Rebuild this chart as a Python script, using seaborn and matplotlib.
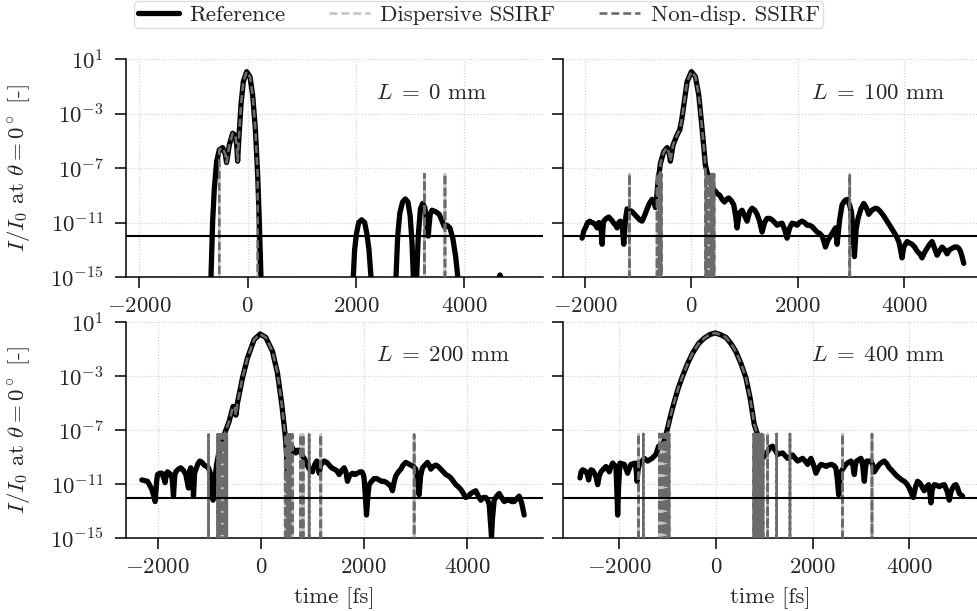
import numpy as np
import pandas as pd
import matplotlib
matplotlib.use("Agg")
import matplotlib.pyplot as plt
from matplotlib.lines import Line2D
from matplotlib.ticker import FixedLocator, FuncFormatter, LogFormatterSciNotation, NullLocator
import seaborn as sns

# ---------------- data (time in fs, log10 of I/I0) ----------------
lengths_mm = [0, 100, 200, 400]
threshold = 1e-12
floor_log = -20.0

ref_t_0 = [-720, -677, -646, -615, -572, -523, -462, -412, -390, -365, -338, -277, -228, -200, -185, -166,
           -123, -80, -18, 43, 92, 142, 185, 215, 246, 260,
           1930, 1950, 1975, 2010, 2050, 2105, 2160, 2200, 2240, 2277, 2300,
           2720, 2739, 2770, 2810, 2860, 2911, 2960, 3000, 3035, 3059, 3080,
           3100, 3120, 3150, 3190, 3231, 3270, 3300, 3320, 3335, 3350, 3370, 3403, 3470, 3538, 3590, 3631,
           3680, 3735, 3790, 3840, 3880, 3900,
           4620, 4645, 4659, 4675, 4700]
ref_l_0 = [-20, -15, -10.9, -8.5, -6.5, -5.67, -5.5, -6.0, -6.6, -6.0, -5.3, -4.45, -4.6, -5.4, -6.5, -5.1,
           -2.37, -0.66, 0.07, -0.3, -1.64, -4.1, -7.5, -10.9, -15, -20,
           -20, -15, -13.0, -11.8, -11.0, -10.8, -11.0, -11.8, -13.0, -15, -20,
           -20, -15, -12.0, -10.3, -9.5, -9.27, -9.5, -10.5, -12.5, -15, -20,
           -20, -15, -12.0, -10.0, -9.6, -9.9, -10.6, -11.6, -12.0, -11.2, -10.4, -10.1, -10.2, -10.4, -10.9, -11.3,
           -11.2, -11.4, -12.2, -13.5, -15, -20,
           -20, -15.0, -14.85, -15, -20]

ref_t_100 = [-2054, -2020, -1992, -1950, -1910, -1870, -1835, -1800, -1772, -1740, -1710, -1690, -1678, -1660,
             -1647, -1600, -1553, -1505, -1459, -1425, -1397, -1365, -1334, -1300, -1271, -1240, -1209, -1160,
             -1115, -1070, -1021, -975, -927, -880, -833, -790, -739, -700, -676, -650, -626, -582, -520, -457,
             -420, -395, -370, -344, -269, -219, -180, -144, -81, 0, 75, 138, 200, 263, 326, 357, 420, 451, 490,
             532, 575, 620, 660, 701, 750, 795, 830, 858, 900, 952, 1000, 1046, 1095, 1140, 1190, 1234, 1280,
             1328, 1375, 1422, 1470, 1516, 1565, 1610, 1655, 1703, 1750, 1797, 1845, 1891, 1940, 1985, 2030,
             2079, 2125, 2173, 2220, 2267, 2315, 2361, 2410, 2455, 2490, 2518, 2565, 2612, 2660, 2706, 2722,
             2737, 2785, 2831, 2880, 2925, 2970, 3006, 3035, 3063, 3095, 3131, 3185, 3238, 3285, 3332, 3390,
             3457, 3500, 3551, 3610, 3676, 3740, 3802, 3850, 3896, 3930, 3958, 3990, 4052, 4100, 4146, 4195,
             4240, 4290, 4334, 4380, 4428, 4475, 4522, 4570, 4616, 4660, 4710, 4760, 4804, 4850, 4898, 4945,
             4992, 5025, 5054, 5085, 5117]
ref_l_100 = [-12.15, -11.6, -11.4, -11.0, -10.9, -11.0, -11.05, -11.2, -11.4, -11.0, -11.1, -11.8, -12.6, -11.3,
             -10.9, -10.7, -10.6, -10.8, -11.05, -11.2, -11.4, -11.0, -10.9, -11.3, -12.6, -10.8, -10.0, -10.1,
             -10.2, -10.4, -10.6, -10.8, -10.9, -10.5, -10.0, -9.6, -9.3, -9.5, -9.9, -9.0, -8.0, -6.65, -5.8, -5.5,
             -5.9, -6.5, -5.9, -5.3, -4.57, -4.2, -3.4, -2.4, -0.66, 0.07, -0.3, -1.64, -4.1, -6.8, -7.8, -8.0,
             -8.6, -8.7, -8.9, -9.0, -9.3, -9.5, -9.3, -9.2, -9.4, -9.7, -10.5, -11.4, -10.3, -10.1, -10.5, -10.9,
             -10.2, -9.95, -10.1, -10.4, -10.9, -11.7, -11.0, -10.7, -10.7, -10.8, -11.0, -11.2, -11.1, -11.05,
             -11.5, -12.15, -11.4, -11.05, -11.1, -11.2, -11.0, -10.9, -11.0, -11.2, -11.2, -11.3, -11.5, -11.7,
             -11.8, -12.0, -12.4, -12.8, -12.3, -12.0, -11.7, -11.4, -12.0, -12.6, -10.8, -9.7, -9.4, -9.3, -9.7,
             -10.2, -11.5, -13.5, -11.5, -10.7, -10.0, -9.6, -9.9, -10.4, -10.1, -9.95, -10.0, -10.2, -10.5,
             -10.9, -11.3, -11.7, -12.0, -12.4, -13.0, -13.6, -12.8, -12.4, -12.5, -12.6, -12.8, -13.1, -13.3,
             -13.6, -13.2, -12.9, -12.6, -12.4, -12.9, -13.4, -13.1, -12.8, -13.0, -13.3, -13.0, -12.9, -12.8,
             -12.8, -12.9, -13.1, -13.5, -14.0]

ref_t_200 = [-2308, -2250, -2198, -2140, -2114, -2075, -2050, -2020, -2004, -1960, -1920, -1880, -1856, -1830,
             -1810, -1775, -1746, -1720, -1694, -1670, -1649, -1600, -1552, -1500, -1455, -1430, -1403, -1380,
             -1358, -1330, -1306, -1285, -1261, -1220, -1183, -1140, -1099, -1050, -1015, -980, -950, -925, -900,
             -860, -795, -750, -711, -614, -537, -500, -485, -465, -453, -356, -259, -129, -13, 97, 226, 323,
             407, 472, 500, 517, 540, 570, 595, 640, 679, 710, 744, 790, 841, 880, 925, 960, 1002, 1040, 1086,
             1110, 1132, 1160, 1229, 1280, 1326, 1375, 1423, 1470, 1520, 1570, 1617, 1650, 1681, 1720, 1778,
             1830, 1875, 1920, 1959, 1990, 2004, 2030, 2050, 2075, 2101, 2150, 2198, 2250, 2295, 2340, 2392,
             2440, 2489, 2525, 2554, 2590, 2619, 2670, 2716, 2760, 2813, 2860, 2910, 2960, 3007, 3040, 3071,
             3100, 3136, 3185, 3233, 3265, 3298, 3345, 3395, 3440, 3492, 3540, 3589, 3640, 3686, 3735, 3783,
             3830, 3880, 3930, 3977, 4025, 4074, 4120, 4171, 4220, 4268, 4315, 4365, 4400, 4430, 4455, 4475,
             4495, 4527, 4575, 4624, 4670, 4721, 4770, 4818, 4865, 4915, 4960, 5012, 5060, 5109]
ref_l_200 = [-10.7, -10.75, -10.8, -11.2, -11.4, -11.9, -12.3, -10.8, -10.3, -10.2, -10.2, -10.6, -10.9, -10.2,
             -10.1, -10.2, -10.3, -10.6, -11.9, -10.4, -10.1, -9.9, -9.8, -10.0, -10.3, -10.8, -11.3, -10.0,
             -9.8, -10.2, -11.9, -10.2, -9.95, -9.5, -9.3, -9.4, -9.6, -9.7, -9.8, -10.2, -11.5, -12.2, -11.0,
             -9.6, -8.3, -7.8, -7.35, -6.36, -5.25, -5.4, -5.9, -5.4, -5.0, -3.15, -1.67, -0.3, 0.11, -0.14,
             -1.17, -2.78, -5.1, -7.35, -8.8, -10.3, -9.5, -8.5, -8.2, -8.5, -8.7, -8.5, -8.5, -8.8, -9.1, -9.4,
             -9.8, -10.0, -10.1, -9.6, -9.3, -9.5, -10.2, -9.6, -9.3, -9.4, -9.6, -9.8, -9.9, -10.0, -10.3,
             -10.0, -9.8, -10.1, -10.8, -10.4, -10.2, -10.3, -10.2, -10.1, -10.1, -10.3, -10.6, -12.0, -13.3,
             -12.0, -11.05, -10.8, -10.6, -10.6, -10.7, -10.8, -10.8, -10.9, -11.05, -11.2, -11.5, -10.8, -10.4,
             -10.1, -9.9, -9.6, -9.4, -9.5, -9.6, -9.7, -9.9, -10.6, -11.8, -10.4, -9.8, -9.6, -9.4, -9.6, -9.9,
             -9.7, -9.6, -9.7, -9.9, -10.1, -10.3, -10.4, -10.55, -10.8, -11.05, -11.2, -11.4, -11.7, -12.0,
             -11.9, -11.7, -11.6, -11.5, -11.9, -12.2, -12.0, -12.0, -12.2, -12.5, -13.8, -14.9, -13.5, -12.2,
             -11.9, -11.7, -12.0, -12.3, -12.2, -12.2, -12.3, -12.3, -12.1, -11.9, -12.4, -13.3]

ref_t_400 = [-2814, -2790, -2759, -2725, -2690, -2660, -2635, -2610, -2586, -2550, -2517, -2480, -2448, -2415,
             -2379, -2330, -2276, -2240, -2207, -2170, -2138, -2100, -2069, -2050, -2034, -2015, -1986, -1940,
             -1897, -1860, -1828, -1790, -1759, -1710, -1669, -1650, -1634, -1610, -1586, -1530, -1483, -1450,
             -1414, -1370, -1324, -1280, -1241, -1186, -1150, -1103, -1050, -1000, -930, -862, -780, -690, -590,
             -483, -360, -241, -120, -14, 100, 207, 310, 414, 520, 621, 710, 793, 862, 910, 966, 1020, 1069,
             1120, 1172, 1225, 1276, 1330, 1379, 1430, 1483, 1535, 1586, 1640, 1690, 1740, 1793, 1845, 1897,
             1930, 1966, 2020, 2069, 2120, 2172, 2225, 2276, 2330, 2379, 2430, 2480, 2510, 2538, 2560, 2586,
             2640, 2690, 2740, 2793, 2830, 2862, 2885, 2910, 2955, 3000, 3035, 3069, 3095, 3117, 3160, 3207,
             3245, 3276, 3330, 3379, 3430, 3483, 3535, 3586, 3640, 3690, 3740, 3793, 3845, 3897, 3950, 4000,
             4045, 4083, 4130, 4172, 4210, 4241, 4275, 4310, 4355, 4400, 4425, 4448, 4475, 4517, 4570, 4621,
             4670, 4724, 4780, 4828, 4860, 4897, 4930, 4966, 5000, 5035, 5070, 5103]
ref_l_400 = [-10.55, -10.1, -9.95, -10.0, -10.1, -10.3, -10.7, -10.2, -9.95, -10.0, -10.2, -10.5, -11.05, -10.4,
             -10.1, -9.9, -9.7, -9.9, -10.1, -9.7, -9.45, -9.6, -9.7, -11.5, -13.3, -11.2, -9.45, -9.5, -9.55,
             -9.9, -10.2, -9.8, -9.55, -9.5, -9.45, -10.0, -10.8, -9.9, -9.55, -9.3, -9.1, -9.2, -9.3, -9.2,
             -9.1, -8.95, -8.8, -8.2, -8.3, -8.1, -7.6, -6.85, -5.8, -4.9, -3.9, -3.0, -2.1, -1.3, -0.6, -0.19,
             0.08, 0.19, 0.05, -0.14, -0.6, -1.2, -2.1, -3.15, -4.7, -6.6, -7.35, -8.3, -9.1, -8.8, -8.6, -8.3,
             -8.2, -8.5, -8.8, -8.75, -8.7, -8.9, -9.1, -9.0, -8.85, -9.1, -9.3, -9.2, -9.1, -9.3, -9.55, -9.3,
             -9.1, -9.6, -10.2, -9.8, -9.55, -9.6, -9.7, -9.6, -9.55, -9.6, -9.8, -10.6, -11.8, -10.8, -10.1,
             -9.8, -9.55, -9.4, -9.3, -9.6, -10.3, -9.6, -9.3, -9.2, -9.1, -9.6, -10.8, -9.8, -9.3, -9.3, -9.3,
             -9.6, -10.1, -9.8, -9.55, -9.4, -9.3, -9.5, -9.8, -10.0, -10.2, -10.4, -10.55, -10.7, -10.8, -11.0,
             -11.3, -11.7, -12.0, -11.2, -10.8, -10.9, -11.05, -11.3, -11.5, -11.2, -11.05, -11.6, -12.4, -11.4,
             -11.05, -11.1, -11.2, -11.1, -11.05, -11.5, -12.2, -11.6, -11.3, -11.1, -11.05, -11.3, -11.7, -11.8,
             -11.9]

# SSIRF: time window where the model pulse follows the reference, spike times and spike level (log10)
ssirf_window = {0: (-535, 205), 100: (-600, 300), 200: (-720, 480), 400: (-1010, 870)}
ssirf_spikes = {
    0: [3262, 3643],
    100: [-1165, -645, -625, -605, -585, -565, 275, 300, 325, 350, 375, 400, 425, 2975],
    200: [-1015, -840, -810, -780, -750, -720, -690, -660, 490, 520, 550, 580, 610, 776, 821, 938, 1164, 2974],
    400: [-1600, -1503, -1170, -1130, -1090, -1050, -1010, -970, 780, 820, 860, 900, 940, 975, 1069, 1255,
          1531, 2621, 3228],
}
ssirf_level = {0: -7.45, 100: -7.45, 200: -7.35, 400: -7.3}

xlims = {0: (-2246, 5453), 100: (-2413, 5366), 200: (-2615, 5474), 400: (-3165, 5401)}
x_ticks = [-2000, 0, 2000, 4000]
y_ticks = [1e1, 1e-3, 1e-7, 1e-11, 1e-15]

refs = {0: (ref_t_0, ref_l_0), 100: (ref_t_100, ref_l_100), 200: (ref_t_200, ref_l_200), 400: (ref_t_400, ref_l_400)}


def ssirf_curve(L):
    rt, rl = refs[L]
    lo, hi = ssirf_window[L]
    t_in = [t for t in rt if lo <= t <= hi]
    l_in = [l for t, l in zip(rt, rl) if lo <= t <= hi]
    ts = [t_in[0]] + t_in + [t_in[-1]]
    ls = [floor_log] + l_in + [floor_log]
    for s in ssirf_spikes[L]:
        ts += [s, s, s]
        ls += [floor_log, ssirf_level[L], floor_log]
    return pd.DataFrame({"time": ts, "I": np.power(10.0, ls)})


# ---------------- style ----------------
sns.set_style("ticks")
plt.rcParams["font.family"] = ["cmr10", "DejaVu Serif"]
plt.rcParams["mathtext.fontset"] = "cm"
plt.rcParams["axes.unicode_minus"] = False
plt.rcParams["axes.formatter.use_mathtext"] = True
FS = 16.5

fig = plt.figure(figsize=(9.77, 6.11), dpi=100)
W, H = 977.0, 611.0
rects = {
    0: [126 / W, (H - 277) / H, 417 / W, 218 / H],
    100: [563 / W, (H - 277) / H, 414 / W, 218 / H],
    200: [126 / W, (H - 538) / H, 417 / W, 216 / H],
    400: [563 / W, (H - 538) / H, 414 / W, 216 / H],
}

c_ref = "black"
c_disp = "#c4c4c4"
c_nd = "#6b6b6b"
dash = (3.0, 1.5)
lw_ref = 3.8
lw_ss = 1.9

for L in lengths_mm:
    ax = fig.add_axes(rects[L])
    rt, rl = refs[L]
    dref = pd.DataFrame({"time": rt, "I": np.power(10.0, rl)})
    dss = ssirf_curve(L)
    sns.lineplot(data=dss, x="time", y="I", ax=ax, sort=False, estimator=None, color=c_disp,
                 linewidth=lw_ss, linestyle=(2.25, dash), zorder=2, legend=False)
    sns.lineplot(data=dref, x="time", y="I", ax=ax, sort=False, estimator=None, color=c_ref,
                 linewidth=lw_ref, zorder=3, legend=False)
    sns.lineplot(data=dss, x="time", y="I", ax=ax, sort=False, estimator=None, color=c_nd,
                 linewidth=lw_ss, linestyle=(0, dash), zorder=4, legend=False)
    if ax.get_legend() is not None:
        ax.get_legend().remove()
    ax.axhline(threshold, color="black", linewidth=1.5, zorder=5)

    ax.set_yscale("log")
    ax.set_ylim(1e-15, 1e1)
    ax.yaxis.set_major_locator(FixedLocator(y_ticks))
    ax.yaxis.set_minor_locator(NullLocator())
    ax.yaxis.set_major_formatter(LogFormatterSciNotation())
    ax.set_xlim(*xlims[L])
    ax.xaxis.set_major_locator(FixedLocator(x_ticks))
    ax.xaxis.set_major_formatter(FuncFormatter(lambda v, p: f"${v:.0f}$"))

    ax.grid(True, which="major", linestyle=":", color="#cfcfcf", linewidth=0.8, zorder=0)
    ax.set_axisbelow(True)
    for s in ["top", "right"]:
        ax.spines[s].set_visible(False)
    for s in ["left", "bottom"]:
        ax.spines[s].set_linewidth(1.1)
        ax.spines[s].set_color("black")
    ax.tick_params(axis="both", direction="out", length=8, width=1.1, labelsize=FS, color="black")
    ax.tick_params(axis="y", pad=8)
    ax.tick_params(axis="x", pad=6)

    if L in (0, 200):
        ax.set_ylabel(r"$I/I_0$ at $\theta = 0^\circ$ [-]", fontsize=FS)
        ax.yaxis.set_label_coords(-0.225, 0.5)
    else:
        ax.set_ylabel("")
        ax.tick_params(axis="y", labelleft=False)
    if L in (200, 400):
        ax.set_xlabel("time [fs]", fontsize=FS)
        ax.xaxis.set_label_coords(0.5, -0.23)
    else:
        ax.set_xlabel("")

    ax.text(0.60, 0.845, rf"$L\;=\;{L}$ mm", transform=ax.transAxes, ha="left", va="center", fontsize=FS)

# legend proxies styled like the plotted series
handles = [
    Line2D([], [], color=c_ref, linewidth=lw_ref),
    Line2D([], [], color=c_disp, linewidth=lw_ss, linestyle=(0, dash)),
    Line2D([], [], color=c_nd, linewidth=lw_ss, linestyle=(0, dash)),
]
labels = ["Reference", "Dispersive SSIRF", "Non-disp. SSIRF"]
fig.legend(handles, labels, loc="upper center", bbox_to_anchor=(0.49, 0.998), ncol=3,
           fontsize=FS, frameon=True, handlelength=1.8, handletextpad=0.45, columnspacing=1.9,
           borderpad=0.15, borderaxespad=0.0, fancybox=True, edgecolor="#dddddd", framealpha=1.0)

fig.savefig("out.png", dpi=100)
